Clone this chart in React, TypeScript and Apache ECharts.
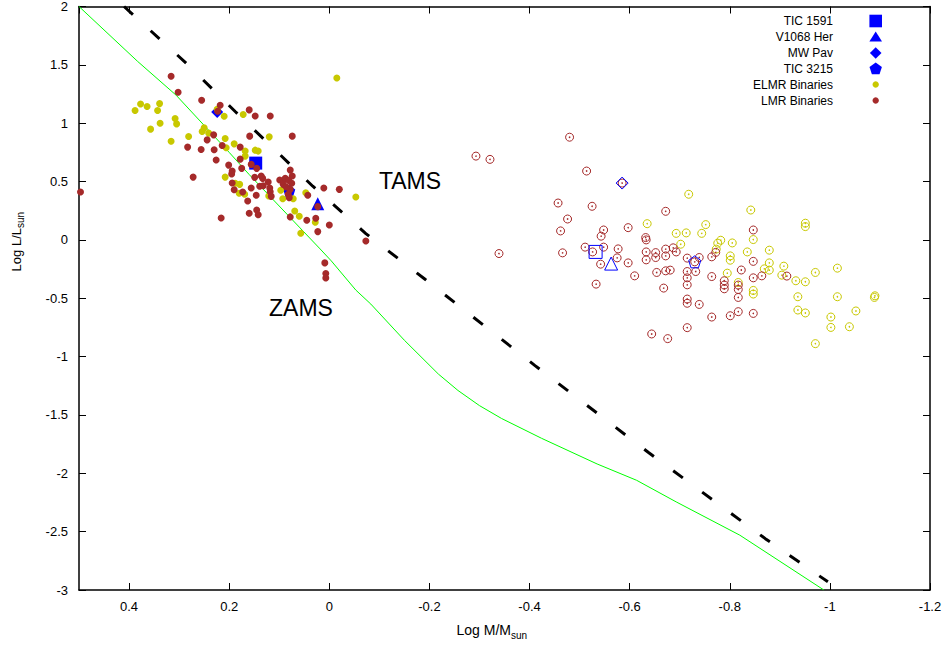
import React, { useEffect, useRef } from "react";
import * as echarts from "echarts";

// ---------- data ----------
const xTicks = { min: -1.2, max: 0.5, interval: 0.2 };
const yTicks = { min: -3, max: 2, interval: 0.5 };

const zamsLine: number[][] = [
  [0.5, 2], [0.383, 1.53], [0.306, 1.24], [0.2, 0.75], [0.16, 0.56], [0.06, 0.11],
  [0.02, -0.07], [-0.004, -0.18], [-0.053, -0.43], [-0.083, -0.55], [-0.15, -0.86],
  [-0.218, -1.15], [-0.257, -1.29], [-0.3, -1.42], [-0.344, -1.53], [-0.424, -1.7],
  [-0.535, -1.92], [-0.614, -2.06], [-0.693, -2.245], [-0.82, -2.53], [-0.988, -3.0],
];

const tamsLine: number[][] = [
  [0.41, 2], [0.286, 1.515], [0.188, 1.1], [0.033, 0.46], [-0.073, 0.054],
  [-0.19, -0.333], [-0.411, -1.077], [-0.637, -1.82], [-0.871, -2.56], [-0.996, -2.93],
];

const tic1591 = [[0.147, 0.658]];
const tic1591Sec = [[-0.532, -0.103]];
const v1068Her = [[0.023, 0.31]];
const v1068HerSec = [[-0.563, -0.203]];
const mwPav = [[0.224, 1.097]];
const mwPavSec = [[-0.585, 0.487]];
const tic3215 = [[0.08, 0.419]];
const tic3215Sec = [[-0.73, -0.188]];

const lmrPrimary: number[][] = [
  [0.497, 0.41], [0.316, 1.402], [0.302, 1.265], [0.255, 1.197], [0.218, 1.154], [0.223, 1.103],
  [0.16, 1.114], [0.148, 1.062], [0.118, 1.062], [0.074, 0.889], [0.159, 0.889], [0.231, 0.9],
  [0.244, 0.857], [0.214, 0.809], [0.178, 0.795], [0.283, 0.795], [0.256, 0.775], [0.23, 0.772],
  [0.226, 0.684], [0.178, 0.692], [0.201, 0.641], [0.175, 0.613], [0.194, 0.59], [0.195, 0.564],
  [0.156, 0.647], [0.145, 0.613], [0.149, 0.536], [0.136, 0.547], [0.133, 0.527], [0.122, 0.496],
  [0.078, 0.598], [0.194, 0.487], [0.139, 0.459], [0.132, 0.464], [0.119, 0.444], [0.118, 0.413],
  [0.156, 0.444], [0.19, 0.43], [0.173, 0.41], [0.116, 0.373], [0.146, 0.382], [0.163, 0.333],
  [0.16, 0.228], [0.145, 0.256], [0.142, 0.216], [0.216, 0.188], [0.272, 0.538], [0.099, 0.513],
  [0.088, 0.527], [0.081, 0.51], [0.075, 0.485], [0.092, 0.476], [0.078, 0.433], [0.082, 0.391],
  [0.08, 0.362], [0.086, 0.453], [0.074, 0.547], [0.043, 0.382], [0.011, 0.444], [-0.02, 0.433],
  [0.078, 0.197], [0.045, 0.168], [0.027, 0.185], [0.0, 0.128], [0.023, 0.071], [0.023, 0.285],
  [-0.073, -0.009], [0.009, -0.197], [0.007, -0.288], [0.007, -0.327],
];

const elmrPrimary: number[][] = [
  [0.388, 1.109], [0.377, 1.165], [0.364, 1.143], [0.339, 1.168], [0.343, 1.109], [0.308, 1.04],
  [0.305, 0.994], [0.338, 1.0], [0.357, 0.949], [0.316, 0.846], [0.281, 0.886], [0.254, 0.929],
  [0.25, 0.96], [0.241, 0.915], [0.208, 0.869], [0.19, 0.823], [0.206, 0.789], [0.168, 0.761],
  [0.148, 0.769], [0.142, 0.761], [0.168, 0.718], [0.208, 0.538], [0.179, 0.476], [0.188, 0.485],
  [0.18, 0.399], [0.169, 0.391], [0.12, 0.883], [0.121, 0.376], [0.097, 0.425], [0.093, 0.353],
  [0.072, 0.353], [0.047, 0.404], [0.069, 0.248], [0.06, 0.203], [0.028, 0.151], [0.057, 0.057],
  [-0.053, 0.368], [-0.015, 1.387], [0.172, 1.074], [0.21, 1.06], [0.224, 1.12],
];

const lmrSecondary: number[][] = [
  [-0.48, 0.88], [-0.293, 0.718], [-0.321, 0.69], [-0.514, 0.59], [-0.585, 0.487], [-0.457, 0.316],
  [-0.525, 0.288], [-0.476, 0.179], [-0.462, 0.077], [-0.548, 0.085], [-0.543, 0.032], [-0.597, 0.105],
  [-0.672, 0.245], [-0.511, -0.062], [-0.548, -0.062], [-0.526, -0.103], [-0.577, -0.077], [-0.575, -0.154],
  [-0.542, -0.208], [-0.597, -0.197], [-0.61, -0.308], [-0.533, -0.379], [-0.339, -0.117], [-0.466, -0.111],
  [-0.632, 0.02], [-0.633, 0.0], [-0.633, -0.103], [-0.633, -0.171], [-0.652, -0.109], [-0.652, -0.151],
  [-0.672, -0.079], [-0.672, -0.137], [-0.687, -0.068], [-0.693, -0.103], [-0.654, -0.279], [-0.672, -0.265],
  [-0.681, -0.259], [-0.668, -0.413], [-0.715, -0.156], [-0.715, -0.271], [-0.715, -0.325], [-0.715, -0.385],
  [-0.715, -0.507], [-0.715, -0.543], [-0.739, -0.553], [-0.715, -0.752], [-0.644, -0.806], [-0.676, -0.846],
  [-0.732, -0.271], [-0.739, -0.151], [-0.73, -0.188], [-0.764, -0.145], [-0.772, -0.107], [-0.764, -0.314],
  [-0.764, -0.661], [-0.801, -0.65], [-0.817, -0.615], [-0.823, -0.258], [-0.789, -0.35], [-0.789, -0.387],
  [-0.789, -0.419], [-0.817, -0.387], [-0.817, -0.425], [-0.817, -0.493], [-0.847, -0.325], [-0.847, -0.63],
  [-0.847, 0.085], [-0.847, -0.184], [-0.864, -0.308], [-0.914, -0.31],
];

const elmrSecondary: number[][] = [
  [-0.718, 0.391], [-0.635, 0.139], [-0.693, 0.056], [-0.713, 0.06], [-0.744, 0.056], [-0.752, 0.131],
  [-0.702, -0.037], [-0.842, 0.256], [-0.776, -0.028], [-0.782, -0.003], [-0.805, -0.026], [-0.773, -0.079],
  [-0.801, -0.137], [-0.801, -0.174], [-0.835, -0.103], [-0.847, 0.003], [-0.795, -0.285], [-0.817, -0.365],
  [-0.847, -0.433], [-0.847, -0.464], [-0.951, 0.143], [-0.951, 0.114], [-0.879, -0.088], [-0.879, -0.197],
  [-0.879, -0.259], [-0.869, -0.248], [-0.908, -0.225], [-0.904, -0.302], [-0.932, -0.35], [-0.951, -0.359],
  [-0.971, -0.279], [-1.015, -0.242], [-0.936, -0.487], [-1.015, -0.487], [-1.089, -0.493], [-1.09, -0.479],
  [-0.936, -0.601], [-0.951, -0.626], [-1.002, -0.661], [-1.002, -0.75], [-1.039, -0.744], [-1.052, -0.609],
  [-0.971, -0.889],
];

const legendItems = ["TIC 1591", "V1068 Her", "MW Pav", "TIC 3215", "ELMR Binaries", "LMR Binaries"];

// ---------- styles ----------
const FONT = "'Liberation Sans', Arial, Helvetica, sans-serif";
const BLUE = "#0000ff";
const YELLOW = "#c8c800";
const BROWN = "#a52a2a";
const PENTAGON = "path://M0,-10 L9.51,-3.09 L5.88,8.09 L-5.88,8.09 L-9.51,-3.09 Z";

function pentagonPts(cx: number, cy: number, r: number) {
  const pts: number[][] = [];
  for (let i = 0; i < 5; i++) {
    const a = -Math.PI / 2 + (i * 2 * Math.PI) / 5;
    pts.push([cx + r * Math.cos(a), cy + r * Math.sin(a)]);
  }
  return pts;
}

export default function App() {
  const ref = useRef<HTMLDivElement>(null);

  useEffect(() => {
    if (!ref.current) return;
    const chart = echarts.init(ref.current, undefined, { renderer: "svg" });

    const axisCommon = {
      type: "value" as const,
      axisLine: { show: true, onZero: false, lineStyle: { color: "#000", width: 1.5 } },
      axisTick: { show: true, inside: true, length: 7, lineStyle: { color: "#000", width: 1 } },
      splitLine: { show: false },
    };

    const filled = (name: string, data: number[][], symbol: string, size: number, color: string, z = 2) => ({
      name, type: "scatter", data, symbol, symbolSize: size, z,
      itemStyle: { color, opacity: 1 },
      emphasis: { disabled: true },
    });
    const open = (name: string, data: number[][], symbol: string, size: number, color: string, z = 3) => ({
      name, type: "scatter", data, symbol, symbolSize: size, z,
      itemStyle: { color: "rgba(0,0,0,0)", borderColor: color, borderWidth: 1, opacity: 1 },
      emphasis: { disabled: true },
    });

    const legendY = [21, 37, 53, 68.5, 84.5, 100.5];
    const textX = 833;
    const symX = 875.7;

    const graphics: any[] = [];
    legendItems.forEach((t, i) => {
      graphics.push({
        type: "text", x: textX, y: legendY[i],
        style: { text: t, font: `12px ${FONT}`, fill: "#000", textAlign: "right", textVerticalAlign: "middle" },
      });
    });
    graphics.push({ type: "rect", shape: { x: symX - 6.3, y: legendY[0] - 6.3, width: 12.6, height: 12.6 }, style: { fill: BLUE } });
    graphics.push({ type: "polygon", shape: { points: [[symX - 6.3, legendY[1] + 4.5], [symX + 6.3, legendY[1] + 4.5], [symX, legendY[1] - 5.5]] }, style: { fill: BLUE } });
    graphics.push({ type: "polygon", shape: { points: [[symX, legendY[2] - 5.8], [symX + 5.8, legendY[2]], [symX, legendY[2] + 5.8], [symX - 5.8, legendY[2]]] }, style: { fill: BLUE } });
    graphics.push({ type: "polygon", shape: { points: pentagonPts(symX, legendY[3] + 0.5, 6.5) }, style: { fill: BLUE } });
    graphics.push({ type: "circle", shape: { cx: symX, cy: legendY[4], r: 3.2 }, style: { fill: YELLOW } });
    graphics.push({ type: "circle", shape: { cx: symX, cy: legendY[5], r: 3.2 }, style: { fill: BROWN } });

    // annotations
    graphics.push({ type: "text", x: 410, y: 181, style: { text: "TAMS", font: `23px ${FONT}`, fill: "#000", textAlign: "center", textVerticalAlign: "middle" } });
    graphics.push({ type: "text", x: 301, y: 308, style: { text: "ZAMS", font: `23px ${FONT}`, fill: "#000", textAlign: "center", textVerticalAlign: "middle" } });

    // axis titles
    graphics.push({
      type: "group", x: 505, y: 630,
      children: [
        { type: "text", x: 6, y: 0, style: { text: "Log M/M", font: `14px ${FONT}`, fill: "#000", textAlign: "right", textVerticalAlign: "middle" } },
        { type: "text", x: 6, y: 5, style: { text: "sun", font: `10px ${FONT}`, fill: "#000", textAlign: "left", textVerticalAlign: "middle" } },
      ],
    });
    graphics.push({
      type: "group", x: 16, y: 243, rotation: Math.PI / 2,
      children: [
        { type: "text", x: 15, y: 0, style: { text: "Log L/L", font: `13px ${FONT}`, fill: "#000", textAlign: "right", textVerticalAlign: "middle" } },
        { type: "text", x: 15, y: 4.5, style: { text: "sun", font: `10px ${FONT}`, fill: "#000", textAlign: "left", textVerticalAlign: "middle" } },
      ],
    });

    const option: any = {
      animation: false,
      backgroundColor: "#fff",
      textStyle: { fontFamily: FONT },
      grid: { left: 79, right: 15, top: 5, bottom: 57, containLabel: false },
      xAxis: [
        {
          ...axisCommon, position: "bottom", inverse: true,
          min: xTicks.min, max: xTicks.max, interval: xTicks.interval,
          axisLabel: { show: true, color: "#000", fontSize: 13, fontFamily: FONT, margin: 10, showMaxLabel: false, showMinLabel: true },
        },
        {
          ...axisCommon, position: "top", inverse: true,
          min: xTicks.min, max: xTicks.max, interval: xTicks.interval,
          axisLabel: { show: false },
        },
      ],
      yAxis: [
        {
          ...axisCommon, position: "left",
          min: yTicks.min, max: yTicks.max, interval: yTicks.interval,
          axisLabel: { show: true, color: "#000", fontSize: 13, fontFamily: FONT, margin: 11 },
        },
        {
          ...axisCommon, position: "right",
          min: yTicks.min, max: yTicks.max, interval: yTicks.interval,
          axisLabel: { show: false },
        },
      ],
      series: [
        {
          name: "ZAMS", type: "line", data: zamsLine, showSymbol: false, symbol: "none", z: 1,
          lineStyle: { color: "#00ff00", width: 1 }, emphasis: { disabled: true },
        },
        {
          name: "TAMS", type: "line", data: tamsLine, showSymbol: false, symbol: "none", z: 1,
          lineStyle: { color: "#000", width: 3, type: [12, 24], cap: "butt" }, emphasis: { disabled: true },
        },
        filled("TIC 1591", tic1591, "rect", 13, BLUE),
        filled("V1068 Her", v1068Her, "triangle", 13, BLUE),
        filled("MW Pav", mwPav, "diamond", 12, BLUE),
        filled("TIC 3215", tic3215, PENTAGON, 12, BLUE),
        filled("ELMR Binaries", elmrPrimary, "circle", 7, YELLOW, 3),
        filled("LMR Binaries", lmrPrimary, "circle", 7, BROWN, 4),
        open("ELMR secondary", elmrSecondary, "circle", 8, YELLOW),
        filled("ELMR secondary dot", elmrSecondary, "circle", 1.6, YELLOW, 3),
        open("LMR secondary", lmrSecondary, "circle", 8, BROWN, 4),
        filled("LMR secondary dot", lmrSecondary, "circle", 1.6, BROWN, 4),
        open("TIC 1591 secondary", tic1591Sec, "rect", 13, BLUE, 5),
        open("V1068 Her secondary", v1068HerSec, "triangle", 13, BLUE, 5),
        open("MW Pav secondary", mwPavSec, "diamond", 12, BLUE, 5),
        open("TIC 3215 secondary", tic3215Sec, PENTAGON, 12, BLUE, 5),
      ],
      graphic: graphics,
    };

    chart.setOption(option);
    return () => chart.dispose();
  }, []);

  return <div ref={ref} style={{ position: "absolute", left: 0, top: 0, width: 945, height: 647 }} />;
}
